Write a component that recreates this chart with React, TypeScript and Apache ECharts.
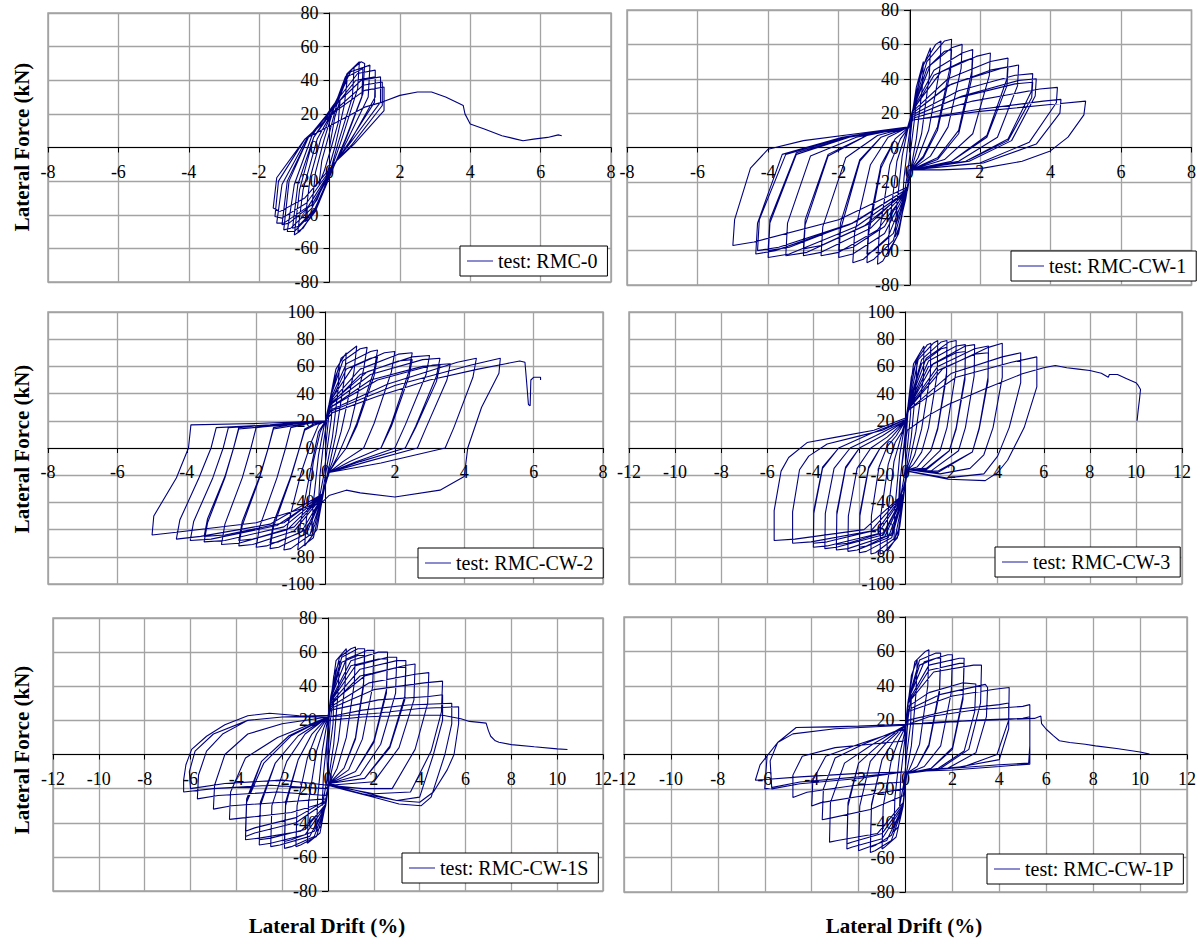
import React, { useEffect, useRef } from "react";
import * as echarts from "echarts";

// ---------- data (drift %, lateral force kN) ----------
const rmc0: number[][] = [
  [0, 0], [0.15, 18], [0.3, 28], [0.25, 15], [0.05, 0], [-0.15, -14], [-0.3, -22], [-0.22, -8], [-0.05, 5],
  [0.2, 25], [0.4, 36], [0.5, 40], [0.42, 25], [0.15, 0], [-0.1, -18], [-0.35, -31], [-0.5, -35], [-0.4, -15], [-0.15, 5],
  [0.15, 25], [0.45, 42], [0.7, 48], [0.65, 30], [0.25, 3], [0.05, -12], [-0.3, -33], [-0.6, -43], [-0.7, -44], [-0.55, -18], [-0.25, 5],
  [0.1, 22], [0.5, 44], [0.85, 51], [0.8, 35], [0.35, 5], [0.1, -10], [-0.35, -35], [-0.75, -48], [-0.9, -50], [-0.75, -25], [-0.35, 5],
  [0.05, 20], [0.55, 45], [0.9, 51], [1.0, 50], [0.95, 32], [0.45, 5], [0.15, -10], [-0.4, -38], [-0.85, -50], [-1.0, -52], [-0.85, -25], [-0.45, 6],
  [0.1, 22], [0.5, 42], [0.95, 47], [0.92, 30], [0.45, 4], [0.15, -10], [-0.4, -36], [-0.9, -47], [-1.05, -48], [-0.9, -22], [-0.45, 6],
  [0.05, 22], [0.6, 45], [1.15, 49], [1.1, 30], [0.5, 4], [0.15, -10], [-0.45, -38], [-1.0, -50], [-1.2, -50], [-1.0, -22], [-0.5, 7],
  [0.1, 25], [0.8, 44], [1.3, 46], [1.3, 30], [0.6, 4], [0.2, -8], [-0.5, -36], [-1.1, -48], [-1.3, -49], [-1.15, -20], [-0.6, 6],
  [0.1, 23], [0.75, 40], [1.3, 42], [1.28, 27], [0.55, 3], [0.2, -8], [-0.5, -34], [-1.15, -45], [-1.35, -46], [-1.2, -20], [-0.6, 6],
  [0.1, 24], [0.9, 40], [1.45, 42], [1.45, 27], [0.6, 3], [0.2, -8], [-0.6, -35], [-1.3, -45], [-1.5, -45], [-1.35, -22], [-0.65, 5],
  [0.15, 22], [0.95, 37], [1.5, 39], [1.5, 25], [0.65, 2], [0.2, -8], [-0.65, -33], [-1.35, -42], [-1.55, -41], [-1.45, -20], [-0.7, 5],
  [0.2, 22], [1.0, 34], [1.55, 36], [1.55, 22], [0.7, 2], [0.2, -8], [-0.7, -30], [-1.4, -38], [-1.6, -36], [-1.5, -18], [-0.7, 5],
  [0.2, 15], [1.0, 24], [1.5, 27], [2.0, 31], [2.5, 33], [2.9, 33], [3.3, 30], [3.7, 26], [3.8, 25], [3.85, 20], [4.0, 14],
  [4.4, 11], [4.9, 7], [5.3, 5], [5.5, 4], [5.8, 5], [6.2, 6], [6.5, 7.5], [6.6, 7],
];

const rmcCw1: number[][] = [
  [0, 0], [0.1, 20], [0.2, 35], [0.17, 20], [0.05, 0], [-0.05, -15], [-0.2, -35], [-0.15, -18], [-0.05, 0],
  [0.05, 15], [0.2, 35], [0.4, 50], [0.37, 35], [0.2, 5], [0.05, -12], [-0.1, -30], [-0.3, -47], [-0.4, -52], [-0.36, -35], [-0.2, -5], [-0.05, 10],
  [0.1, 22], [0.35, 45], [0.6, 58], [0.57, 42], [0.35, 8], [0.1, -10], [-0.05, -22], [-0.3, -50], [-0.6, -62], [-0.56, -45], [-0.35, -8], [-0.1, 8],
  [0.1, 22], [0.4, 48], [0.75, 60], [0.9, 62], [0.87, 46], [0.55, 10], [0.25, -6], [0.05, -13], [-0.05, -24], [-0.35, -52], [-0.75, -66], [-0.9, -68], [-0.85, -50], [-0.55, -10], [-0.25, 5], [0, 12],
  [0.1, 22], [0.5, 50], [1.0, 62], [1.2, 63], [1.17, 48], [0.8, 12], [0.4, -5], [0.05, -13], [-0.05, -24], [-0.45, -54], [-1.0, -65], [-1.2, -67], [-1.15, -50], [-0.8, -12], [-0.4, 5], [0, 12],
  [0.1, 21], [0.5, 46], [1.0, 56], [1.2, 57], [1.17, 44], [0.8, 10], [0.4, -6], [0.05, -13], [-0.05, -23], [-0.45, -50], [-1.0, -60], [-1.2, -62], [-1.15, -46], [-0.8, -10], [-0.4, 5], [0, 12],
  [0.1, 22], [0.6, 48], [1.2, 58], [1.5, 60], [1.47, 46], [1.1, 12], [0.6, -5], [0.05, -13], [-0.05, -24], [-0.6, -52], [-1.3, -65], [-1.6, -67], [-1.55, -50], [-1.1, -10], [-0.6, 6], [0, 12],
  [0.1, 22], [0.7, 45], [1.5, 55], [1.8, 57], [1.77, 44], [1.4, 10], [0.8, -6], [0.05, -13], [-0.05, -24], [-0.7, -50], [-1.6, -62], [-2.0, -64], [-1.95, -48], [-1.4, -8], [-0.8, 6], [0, 12],
  [0.1, 21], [0.7, 42], [1.5, 50], [1.8, 52], [1.77, 40], [1.4, 8], [0.8, -7], [0.05, -13], [-0.05, -23], [-0.7, -46], [-1.6, -58], [-2.0, -60], [-1.95, -44], [-1.4, -7], [-0.8, 6], [0, 12],
  [0.1, 22], [0.9, 44], [1.9, 53], [2.3, 55], [2.27, 42], [1.8, 8], [1.0, -7], [0.05, -13], [-0.05, -25], [-0.9, -48], [-2.0, -61], [-2.5, -63], [-2.45, -46], [-1.8, -6], [-0.9, 7], [0, 12],
  [0.1, 21], [1.1, 40], [2.3, 50], [2.8, 52], [2.77, 40], [2.2, 7], [1.2, -8], [0.05, -13], [-0.05, -25], [-1.1, -47], [-2.5, -61], [-3.0, -63], [-2.95, -45], [-2.3, -5], [-1.2, 7], [0, 12],
  [0.1, 20], [1.1, 36], [2.3, 45], [2.8, 47], [2.77, 36], [2.2, 6], [1.2, -8], [0.05, -13], [-0.05, -24], [-1.1, -44], [-2.5, -57], [-3.0, -59], [-2.95, -42], [-2.3, -4], [-1.2, 7], [0, 12],
  [0.1, 20], [1.2, 37], [2.6, 46], [3.1, 48], [3.07, 36], [2.5, 6], [1.4, -8], [0.05, -13], [-0.05, -25], [-1.3, -46], [-2.9, -61], [-3.5, -63], [-3.45, -44], [-2.8, -5], [-1.5, 6], [0, 12],
  [0.1, 19], [1.4, 33], [3.0, 42], [3.5, 43], [3.47, 33], [2.8, 5], [1.6, -8], [0.05, -13], [-0.05, -25], [-1.5, -46], [-3.4, -62], [-4.0, -64], [-3.95, -44], [-3.2, -4], [-1.7, 6], [0, 12],
  [0.1, 18], [1.4, 29], [3.0, 37], [3.5, 38], [3.47, 29], [2.8, 4], [1.6, -8], [0.05, -13], [-0.05, -24], [-1.5, -43], [-3.4, -58], [-4.0, -60], [-3.95, -42], [-3.2, -3], [-1.7, 6], [0, 12],
  [0.1, 18], [1.5, 30], [3.1, 39], [3.6, 40], [3.57, 30], [2.9, 4], [1.7, -8], [0.05, -13], [-0.05, -24], [-1.6, -44], [-3.7, -58], [-4.3, -60], [-4.25, -42], [-3.5, -4], [-1.8, 6], [0, 12],
  [0.1, 17], [1.8, 27], [3.7, 34], [4.2, 35], [4.17, 26], [3.4, 3], [2.0, -9], [0.05, -13], [-0.05, -24], [-1.7, -45], [-3.8, -60], [-4.35, -62], [-4.3, -44], [-3.6, -4], [-1.9, 6], [0, 12],
  [0.1, 16], [1.9, 22], [3.8, 27], [4.3, 28], [4.27, 20], [3.6, 2], [2.1, -9], [0.05, -13], [-0.05, -23], [-2.0, -42], [-4.4, -55], [-5.0, -57], [-4.95, -42], [-4.5, -12], [-4.0, -1], [-3.0, 4], [-1.5, 8], [0, 12],
  [0.1, 16], [2.0, 21], [4.0, 25], [5.0, 27], [4.95, 19], [4.5, 6], [4.0, -2], [3.2, -8], [2.1, -12], [0.9, -13], [0, -13], [-0.05, -20],
];

const rmcCw2: number[][] = [
  [0, 0], [0.1, 25], [0.2, 40], [0.17, 22], [0.05, 0], [-0.05, -20], [-0.2, -40], [-0.16, -20], [-0.05, 5],
  [0.1, 30], [0.25, 50], [0.4, 60], [0.36, 42], [0.2, 8], [0.05, -12], [-0.1, -35], [-0.3, -56], [-0.4, -62], [-0.35, -40], [-0.2, -5], [-0.05, 15],
  [0.1, 32], [0.3, 58], [0.6, 70], [0.55, 52], [0.3, 10], [0.1, -14], [-0.05, -32], [-0.25, -60], [-0.6, -72], [-0.55, -52], [-0.35, -10], [-0.15, 12], [0, 20],
  [0.15, 38], [0.45, 66], [0.9, 75], [0.82, 56], [0.45, 12], [0.2, -10], [0.05, -20], [-0.1, -38], [-0.35, -66], [-0.8, -75], [-0.72, -55], [-0.4, -12], [-0.2, 12], [0, 20],
  [0.15, 38], [0.5, 64], [1.0, 73], [1.2, 74], [1.1, 58], [0.7, 15], [0.35, -6], [0.1, -18], [-0.1, -36], [-0.45, -64], [-1.0, -74], [-1.2, -75], [-1.1, -58], [-0.7, -18], [-0.4, 5], [-0.2, 17], [0, 20],
  [0.15, 36], [0.6, 62], [1.3, 71], [1.5, 72], [1.4, 57], [0.9, 18], [0.6, 0], [0.3, -10], [0.1, -18], [-0.1, -36], [-0.55, -63], [-1.35, -73], [-1.6, -74], [-1.5, -58], [-1.0, -22], [-0.75, 0], [-0.6, 14], [-0.3, 18], [0, 20],
  [0.15, 34], [0.6, 58], [1.3, 66], [1.5, 67], [1.4, 53], [0.9, 16], [0.6, 0], [0.3, -10], [0.1, -18], [-0.1, -35], [-0.55, -60], [-1.35, -69], [-1.6, -70], [-1.5, -55], [-1.0, -21], [-0.75, 0], [-0.6, 13], [-0.3, 17], [0, 20],
  [0.15, 35], [0.8, 60], [1.7, 70], [2.0, 71], [1.9, 56], [1.4, 18], [1.1, 0], [0.5, -10], [0.1, -18], [-0.1, -36], [-0.7, -62], [-1.7, -72], [-2.0, -73], [-1.9, -58], [-1.4, -22], [-1.15, 0], [-1.0, 15], [-0.5, 18], [0, 20],
  [0.15, 34], [1.0, 58], [2.1, 69], [2.5, 70], [2.4, 56], [1.9, 18], [1.6, 0], [0.7, -10], [0.1, -18], [-0.1, -36], [-0.9, -61], [-2.1, -71], [-2.5, -72], [-2.4, -57], [-1.9, -22], [-1.65, 0], [-1.5, 15], [-0.8, 18], [0, 20],
  [0.15, 32], [1.0, 54], [2.1, 64], [2.5, 65], [2.4, 52], [1.9, 16], [1.6, 0], [0.7, -10], [0.1, -18], [-0.1, -35], [-0.9, -58], [-2.1, -67], [-2.5, -68], [-2.4, -54], [-1.9, -21], [-1.65, 0], [-1.5, 14], [-0.8, 17], [0, 20],
  [0.15, 33], [1.2, 56], [2.5, 67], [3.0, 68], [2.9, 54], [2.3, 17], [2.0, 0], [0.9, -10], [0.1, -18], [-0.1, -35], [-1.1, -60], [-2.5, -70], [-3.0, -71], [-2.9, -56], [-2.4, -22], [-2.15, 0], [-2.0, 15], [-1.0, 18], [0, 20],
  [0.15, 32], [1.3, 54], [2.8, 65], [3.3, 66], [3.2, 53], [2.6, 16], [2.3, 0], [1.0, -10], [0.1, -18], [-0.1, -35], [-1.2, -58], [-2.9, -68], [-3.5, -69], [-3.4, -55], [-2.9, -22], [-2.65, 0], [-2.5, 15], [-1.2, 18], [0, 20],
  [0.15, 30], [1.3, 50], [2.8, 60], [3.3, 61], [3.2, 49], [2.6, 15], [2.3, 0], [1.0, -10], [0.1, -18], [-0.1, -34], [-1.2, -55], [-2.9, -64], [-3.5, -65], [-3.4, -52], [-2.9, -21], [-2.65, 0], [-2.5, 14], [-1.2, 17], [0, 20],
  [0.15, 30], [1.5, 50], [3.1, 61], [3.6, 62], [3.5, 50], [2.9, 15], [2.65, 0], [1.2, -10], [0.1, -18], [-0.1, -35], [-1.4, -57], [-3.3, -67], [-3.9, -68], [-3.8, -54], [-3.25, -22], [-2.95, 0], [-2.8, 15], [-1.4, 17], [0, 20],
  [0.15, 28], [1.8, 47], [3.8, 63], [4.35, 66], [4.25, 52], [3.7, 15], [3.45, 0], [1.6, -11], [0.1, -18], [-0.1, -34], [-1.6, -56], [-3.6, -65], [-4.3, -67], [-4.2, -53], [-3.65, -22], [-3.3, 0], [-3.15, 15], [-1.6, 17], [0, 20],
  [0.15, 27], [2.0, 46], [4.2, 61], [5.04, 66], [5.0, 55], [4.5, 30], [4.1, 0], [4.0, -21], [3.3, -31], [2.0, -36], [1.0, -33], [0.6, -31], [0.1, -35], [-0.1, -40],
  [-2.0, -55], [-4.3, -62], [-5.0, -64], [-4.95, -50], [-4.3, -22], [-3.95, 0], [-3.88, 17], [-2.0, 18], [0, 20],
  [0.2, 26], [1.5, 38], [3.0, 50], [4.4, 58], [5.2, 62], [5.6, 64], [5.75, 63], [5.8, 48], [5.85, 32], [5.9, 31], [5.92, 50], [6.0, 52], [6.2, 52], [6.2, 50],
];

const rmcCw3: number[][] = [
  [0, 0], [0.1, 25], [0.25, 40], [0.22, 25], [0.08, 0], [-0.05, -20], [-0.25, -40], [-0.22, -22], [-0.05, 5],
  [0.1, 30], [0.25, 52], [0.5, 65], [0.45, 45], [0.25, 8], [0.05, -14], [-0.05, -32], [-0.25, -58], [-0.5, -68], [-0.46, -45], [-0.25, -5], [-0.08, 12],
  [0.1, 30], [0.35, 62], [0.8, 75], [0.78, 52], [0.45, 12], [0.2, -8], [0.05, -16], [-0.1, -36], [-0.3, -64], [-0.8, -76], [-0.78, -50], [-0.5, -10], [-0.2, 8], [0, 18],
  [0.12, 32], [0.45, 64], [0.95, 76], [1.1, 77], [1.08, 54], [0.7, 14], [0.4, -5], [0.1, -16], [-0.1, -36], [-0.35, -66], [-0.95, -77], [-1.1, -78], [-1.08, -50], [-0.75, -12], [-0.45, 4], [-0.15, 12], [0, 20],
  [0.15, 32], [0.55, 65], [1.2, 77], [1.4, 79], [1.38, 55], [1.0, 15], [0.7, -3], [0.35, -12], [0.1, -16], [-0.1, -36], [-0.45, -66], [-1.3, -77], [-1.5, -78], [-1.48, -50], [-1.15, -14], [-0.8, 1], [-0.4, 9], [0, 20],
  [0.15, 32], [0.7, 65], [1.55, 78], [1.8, 79], [1.78, 55], [1.4, 15], [1.1, -2], [0.5, -14], [0.1, -16], [-0.1, -36], [-0.6, -66], [-1.7, -76], [-2.0, -77], [-1.98, -50], [-1.6, -15], [-1.1, 0], [-0.6, 8], [0, 20],
  [0.15, 31], [0.7, 62], [1.55, 73], [1.8, 74], [1.78, 52], [1.4, 14], [1.1, -2], [0.5, -14], [0.1, -16], [-0.1, -35], [-0.6, -63], [-1.7, -72], [-2.0, -73], [-1.98, -48], [-1.6, -14], [-1.1, 0], [-0.6, 8], [0, 20],
  [0.15, 32], [0.9, 66], [1.9, 78], [2.2, 79], [2.18, 55], [1.8, 15], [1.5, -2], [0.7, -15], [0.1, -16], [-0.1, -36], [-0.75, -66], [-2.1, -75], [-2.5, -76], [-2.48, -50], [-2.1, -15], [-1.5, 0], [-0.8, 8], [0, 20],
  [0.15, 31], [1.0, 64], [2.2, 75], [2.6, 76], [2.58, 53], [2.2, 15], [1.9, -2], [0.9, -16], [0.1, -16], [-0.1, -36], [-0.9, -65], [-2.5, -74], [-3.0, -75], [-2.98, -49], [-2.6, -15], [-2.0, 0], [-1.0, 9], [0, 20],
  [0.15, 30], [1.0, 60], [2.2, 70], [2.6, 71], [2.58, 50], [2.2, 14], [1.9, -2], [0.9, -15], [0.1, -16], [-0.1, -35], [-0.9, -62], [-2.5, -70], [-3.0, -71], [-2.98, -47], [-2.6, -14], [-2.0, 0], [-1.0, 9], [0, 20],
  [0.15, 30], [1.2, 62], [2.6, 75], [3.0, 76], [2.98, 53], [2.6, 15], [2.3, -2], [1.1, -17], [0.1, -16], [-0.1, -35], [-1.0, -64], [-3.0, -73], [-3.5, -74], [-3.48, -48], [-3.1, -15], [-2.4, 0], [-1.3, 9], [0, 20],
  [0.15, 30], [1.4, 60], [3.0, 73], [3.6, 75], [3.58, 52], [3.2, 15], [2.9, -3], [1.4, -18], [0.1, -16], [-0.1, -35], [-1.2, -63], [-3.4, -72], [-4.0, -73], [-3.98, -48], [-3.6, -15], [-2.9, 0], [-1.6, 10], [0, 21],
  [0.15, 29], [1.4, 57], [3.0, 69], [3.6, 70], [3.58, 49], [3.2, 14], [2.9, -3], [1.4, -17], [0.1, -16], [-0.1, -34], [-1.2, -60], [-3.4, -69], [-4.0, -70], [-3.98, -46], [-3.6, -14], [-2.9, 0], [-1.6, 10], [0, 21],
  [0.15, 29], [1.6, 58], [3.6, 74], [4.2, 77], [4.2, 52], [3.8, 15], [3.4, -5], [2.8, -15], [1.5, -19], [0.1, -16], [-0.1, -34], [-1.5, -61], [-4.1, -69], [-4.9, -70], [-4.9, -47], [-4.6, -16], [-4.2, -6], [-3.4, 3], [-2.2, 8], [-1.0, 13], [0, 21],
  [0.15, 28], [2.0, 55], [4.2, 67], [5.0, 70], [5.0, 48], [4.5, 15], [4.0, -6], [3.4, -19], [1.8, -22], [0.1, -17], [-0.1, -34], [-1.8, -60], [-4.8, -67], [-5.7, -68], [-5.7, -46], [-5.4, -17], [-5.07, -7], [-4.27, 4], [-3.0, 8], [-1.37, 13], [0, 22],
  [0.15, 28], [2.2, 52], [4.6, 63], [5.7, 67], [5.7, 45], [5.15, 15], [4.43, -9], [4.0, -18], [3.46, -24], [1.85, -23], [0.08, -17], [-0.1, -30], [-0.3, -40], [-0.25, -25], [-0.05, 0],
  [0.08, 13], [1.0, 24], [1.85, 32], [3.46, 43.5], [5.07, 54.6], [6.0, 59], [6.5, 60.7], [7.0, 59], [7.5, 58], [8.0, 57], [8.5, 55], [8.8, 52],
  [8.85, 54], [9.2, 54], [9.6, 51], [10.0, 48], [10.1, 46], [10.2, 43], [10.15, 35], [10.1, 28], [10.05, 20],
];

const rmcCw1S: number[][] = [
  [0, 0], [0.1, 20], [0.25, 35], [0.22, 18], [0.05, 0], [-0.05, -15], [-0.25, -30], [-0.2, -12], [-0.05, 8],
  [0.1, 28], [0.25, 46], [0.5, 55], [0.45, 38], [0.25, 6], [0.05, -12], [-0.1, -28], [-0.3, -42], [-0.5, -45], [-0.45, -25], [-0.25, 2], [-0.05, 18],
  [0.1, 30], [0.35, 55], [0.8, 62], [0.75, 42], [0.45, 8], [0.15, -10], [-0.05, -25], [-0.35, -46], [-0.9, -52], [-0.85, -28], [-0.5, 2], [-0.2, 15], [0, 22],
  [0.12, 34], [0.5, 57], [1.0, 62], [1.2, 63], [1.15, 42], [0.8, 10], [0.4, -8], [0.05, -17], [-0.1, -30], [-0.5, -48], [-1.2, -53], [-1.4, -54], [-1.35, -30], [-0.9, -2], [-0.5, 12], [0, 22],
  [0.12, 34], [0.6, 57], [1.3, 62], [1.6, 62], [1.55, 42], [1.2, 10], [0.7, -8], [0.05, -17], [-0.1, -30], [-0.6, -48], [-1.6, -54], [-1.9, -55], [-1.85, -30], [-1.3, -3], [-0.7, 12], [0, 22],
  [0.12, 33], [0.6, 54], [1.3, 58], [1.6, 58], [1.55, 40], [1.2, 9], [0.7, -8], [0.05, -17], [-0.1, -29], [-0.6, -45], [-1.6, -50], [-1.9, -51], [-1.85, -28], [-1.3, -3], [-0.7, 12], [0, 22],
  [0.12, 33], [0.8, 56], [1.7, 61], [2.0, 61], [1.95, 40], [1.5, 9], [0.9, -9], [0.05, -17], [-0.1, -30], [-0.8, -48], [-2.1, -53], [-2.5, -54], [-2.45, -30], [-1.8, -4], [-1.0, 12], [0, 22],
  [0.12, 32], [1.0, 55], [2.2, 60], [2.6, 60], [2.55, 38], [2.0, 8], [1.2, -10], [0.05, -17], [-0.1, -30], [-1.0, -47], [-2.5, -52], [-3.0, -53], [-2.95, -30], [-2.3, -5], [-1.3, 11], [0, 22],
  [0.12, 31], [1.0, 52], [2.2, 56], [2.6, 56], [2.55, 36], [2.0, 7], [1.2, -10], [0.05, -17], [-0.1, -29], [-1.0, -44], [-2.5, -49], [-3.0, -50], [-2.95, -28], [-2.3, -5], [-1.3, 11], [0, 22],
  [0.12, 31], [1.2, 52], [2.6, 57], [3.0, 57], [2.95, 36], [2.3, 6], [1.4, -12], [0.05, -17], [-0.1, -30], [-1.2, -45], [-3.0, -49], [-3.6, -50], [-3.55, -28], [-2.8, -5], [-1.6, 11], [0, 22],
  [0.12, 30], [1.4, 50], [3.0, 55], [3.4, 55], [3.35, 34], [2.7, 5], [1.6, -14], [0.05, -17], [-0.1, -28], [-1.4, -40], [-3.2, -46], [-3.6, -48], [-3.55, -28], [-2.9, -4], [-1.7, 11], [0, 22],
  [0.12, 29], [1.4, 46], [3.0, 51], [3.4, 51], [3.35, 32], [2.7, 4], [1.6, -14], [0.05, -17], [-0.1, -27], [-1.4, -37], [-3.2, -43], [-3.6, -45], [-3.55, -26], [-2.9, -4], [-1.7, 11], [0, 22],
  [0.12, 30], [1.6, 46], [3.3, 52], [3.8, 53], [3.75, 32], [3.1, 4], [2.0, -16], [0.05, -18], [-0.1, -28], [-1.6, -34], [-3.6, -37], [-4.3, -38], [-4.25, -22], [-3.6, -2], [-2.2, 10], [0, 22],
  [0.12, 28], [1.8, 42], [3.8, 47], [4.4, 48], [4.35, 30], [3.8, 3], [2.8, -20], [1.5, -20], [0.05, -18], [-0.1, -26], [-2.0, -28], [-4.2, -30], [-5.0, -32], [-4.95, -18], [-4.5, 0], [-3.5, 12], [-2.0, 18], [0, 22],
  [0.12, 27], [2.0, 38], [4.2, 42], [5.0, 43], [4.95, 25], [4.5, 2], [3.6, -22], [2.0, -23], [0.05, -18], [-0.1, -24], [-2.2, -22], [-4.8, -24], [-5.7, -26], [-5.65, -12], [-5.3, 2], [-4.6, 12], [-3.5, 20], [-2.0, 22], [0, 23],
  [0.12, 26], [2.2, 32], [4.4, 34], [5.0, 35], [5.0, 20], [4.6, 0], [4.0, -25], [3.0, -27], [1.5, -23], [0.05, -18], [-0.1, -20], [-2.5, -18], [-5.0, -20], [-6.3, -22],
  [-6.3, -15], [-6.2, -6], [-5.95, 3], [-5.3, 10.7], [-4.5, 17.4], [-3.5, 22.7], [-2.55, 24.2], [-1.26, 22.7], [0, 22],
  [1.5, 26], [3.5, 29], [5.4, 30], [5.4, 18], [5.1, 0], [4.5, -25], [4.07, -30], [3.1, -29], [2.0, -25], [0.8, -21], [0, -18], [-2.0, -15], [-4.5, -17], [-6.0, -20],
  [-6.05, -10], [-5.8, 2], [-5.0, 12], [-3.5, 20], [-2.0, 22], [0, 22],
  [2.0, 24], [4.0, 27], [5.7, 28], [5.7, 18], [5.5, 0], [5.2, -9], [4.6, -22], [4.0, -28], [3.0, -27], [1.5, -22], [0, -17], [-0.05, 0], [0, 20],
  [1.5, 22], [3.5, 23], [5.0, 23], [5.8, 21], [6.17, 19.4], [6.5, 19], [6.9, 18.4], [7.0, 14], [7.1, 10.7], [7.3, 8], [7.46, 7.2], [8.0, 5.8], [9.0, 4.5], [10.0, 3.3], [10.45, 2.9],
];

const rmcCw1P: number[][] = [
  [0, 0], [0.1, 20], [0.25, 35], [0.22, 18], [0.05, 0], [-0.05, -15], [-0.25, -30], [-0.2, -12], [-0.05, 6],
  [0.1, 28], [0.25, 46], [0.5, 55], [0.45, 36], [0.25, 5], [0.05, -10], [-0.1, -28], [-0.3, -42], [-0.5, -45], [-0.45, -25], [-0.25, 0], [-0.05, 12],
  [0.1, 30], [0.4, 54], [0.85, 60], [1.0, 61], [0.95, 40], [0.6, 6], [0.25, -6], [0.05, -12], [-0.1, -30], [-0.4, -48], [-0.9, -54], [-1.0, -55], [-0.95, -30], [-0.6, -3], [-0.3, 8], [0, 16],
  [0.12, 32], [0.6, 55], [1.3, 59], [1.5, 59], [1.45, 38], [1.0, 6], [0.5, -7], [0.05, -11], [-0.1, -30], [-0.6, -50], [-1.3, -56], [-1.5, -57], [-1.45, -30], [-1.0, -3], [-0.5, 8], [0, 17],
  [0.12, 31], [0.6, 52], [1.3, 56], [1.5, 56], [1.45, 36], [1.0, 5], [0.5, -7], [0.05, -11], [-0.1, -29], [-0.6, -47], [-1.3, -53], [-1.5, -54], [-1.45, -29], [-1.0, -3], [-0.5, 8], [0, 17],
  [0.12, 32], [0.8, 54], [1.8, 58], [2.0, 58], [1.95, 36], [1.5, 5], [0.8, -7], [0.05, -11], [-0.1, -30], [-0.8, -50], [-1.8, -55], [-2.0, -56], [-1.95, -30], [-1.5, -4], [-0.8, 7], [0, 17],
  [0.12, 31], [1.0, 52], [2.3, 56], [2.5, 56], [2.45, 34], [2.0, 4], [1.1, -8], [0.05, -11], [-0.1, -30], [-1.0, -49], [-2.3, -54], [-2.5, -55], [-2.45, -30], [-2.0, -5], [-1.1, 6], [0, 17],
  [0.12, 30], [1.0, 49], [2.3, 53], [2.5, 53], [2.45, 32], [2.0, 3], [1.1, -8], [0.05, -11], [-0.1, -29], [-1.0, -46], [-2.3, -51], [-2.5, -52], [-2.45, -28], [-2.0, -5], [-1.1, 6], [0, 17],
  [0.12, 30], [1.2, 48], [2.9, 52], [3.24, 52], [3.2, 30], [2.7, 3], [1.5, -8], [0.05, -11], [-0.1, -28], [-1.2, -46], [-2.9, -50], [-3.24, -51], [-3.2, -28], [-2.6, -5], [-1.4, 6], [0, 17],
  [0.12, 28], [1.0, 36], [2.45, 41.7], [3.0, 41], [2.95, 25], [2.5, 2], [1.4, -8], [0.05, -11], [-0.1, -24], [-1.5, -32], [-3.2, -37], [-3.55, -38], [-3.5, -20], [-3.0, -2], [-1.8, 6], [0, 16],
  [0.12, 26], [1.5, 35], [3.4, 40.8], [3.5, 39], [3.45, 22], [3.0, 1], [1.8, -8], [0.05, -11], [-0.1, -20], [-1.8, -24], [-3.6, -28], [-4.0, -30], [-3.95, -15], [-3.4, -1], [-2.0, 6], [0, 15],
  [0.12, 25], [2.0, 34], [3.8, 38], [4.42, 39], [4.4, 20], [3.9, 0], [2.5, -7], [0.05, -10], [-0.1, -16], [-2.2, -18], [-4.2, -22], [-4.8, -25], [-4.8, -12], [-4.4, -1], [-3.0, 4], [-1.5, 6], [0, 8],
  [0.12, 20], [2.0, 26], [4.0, 29], [4.4, 30], [4.4, 15], [4.0, -3], [2.0, -8], [0, -10], [-2.0, -14], [-4.5, -17], [-5.7, -20], [-5.77, -3.7], [-5.45, 7], [-4.8, 12], [-3.0, 15], [0, 17],
  [1.0, 22], [3.0, 26], [5.0, 28], [5.3, 29], [5.3, 10], [5.3, -5.6], [4.0, -7], [2.0, -9], [0, -10], [-2.0, -13], [-4.5, -16], [-6.0, -20], [-5.9, -0.8], [-5.45, 7], [-4.66, 15.7], [-3.0, 16], [0, 17.6],
  [1.0, 18], [3.0, 20], [5.0, 21], [5.3, 22], [5.3, 5], [5.25, -5], [4.0, -6], [2.0, -8], [0, -10], [-2.0, -11], [-4.5, -13], [-6.4, -15], [-6.2, -6], [-5.9, -0.8], [-5.45, 7], [-4.66, 15.7], [-2.0, 16.5], [0, 17.6],
  [1.5, 19], [3.5, 20], [5.5, 21], [5.77, 22.4], [5.8, 18], [6.0, 14.7], [6.3, 11], [6.56, 8], [7.0, 7], [7.66, 6], [8.1, 5], [9.0, 3.5], [10.0, 1.5], [10.4, 0.2],
];

const seriesData = [rmc0, rmcCw1, rmcCw2, rmcCw3, rmcCw1S, rmcCw1P];
const legendNames = ["test: RMC-0", "test: RMC-CW-1", "test: RMC-CW-2", "test: RMC-CW-3", "test: RMC-CW-1S", "test: RMC-CW-1P"];
const xMin = [-8, -8, -8, -12, -12, -12];
const xMax = [8, 8, 8, 12, 12, 12];
const yMin = [-80, -80, -100, -100, -80, -80];
const yMax = [80, 80, 100, 100, 80, 80];
const xStep = 2;
const yStep = 20;
const yTitle = "Lateral Force (kN)";
const xTitle = "Lateral Drift (%)";

// ---------- layout ----------
const grids = [
  { left: 48, top: 13, width: 563, height: 269 },
  { left: 627, top: 10, width: 566, height: 275 },
  { left: 48, top: 312, width: 555, height: 272 },
  { left: 629, top: 312, width: 553, height: 272 },
  { left: 53, top: 618, width: 550, height: 273 },
  { left: 624, top: 617, width: 563, height: 275 },
];
const legendPos = [
  [460, 246],
  [1011, 251],
  [418, 548],
  [995, 547],
  [402, 853],
  [987, 854],
];

const FONT = "Liberation Serif";
const LINE = "#000080";
const GRIDC = "#a3a3a3";

export default function App() {
  const ref = useRef<HTMLDivElement>(null);
  useEffect(() => {
    if (!ref.current) return;
    const chart = echarts.init(ref.current, undefined, { renderer: "svg" });
    const idx = [0, 1, 2, 3, 4, 5];
    const option: any = {
      animation: false,
      backgroundColor: "#ffffff",
      textStyle: { fontFamily: FONT },
      grid: idx.map((i) => ({
        ...grids[i],
        show: true,
        borderColor: GRIDC,
        borderWidth: 1.5,
        backgroundColor: "#ffffff",
        containLabel: false,
      })),
      xAxis: idx.map((i) => ({
        type: "value",
        gridIndex: i,
        position: "bottom",
        offset: -grids[i].height / 2,
        min: xMin[i],
        max: xMax[i],
        interval: xStep,
        axisLine: { show: true, onZero: false, lineStyle: { color: "#000", width: 1 } },
        axisTick: { show: true, inside: false, length: 5, lineStyle: { color: "#000" } },
        axisLabel: {
          show: true,
          margin: 15,
          color: "#000",
          fontFamily: FONT,
          fontSize: 18,
          showMinLabel: true,
          showMaxLabel: true,
          hideOverlap: false,
        },
        splitLine: { show: true, lineStyle: { color: GRIDC, width: 1.3 } },
      })),
      yAxis: idx.map((i) => ({
        type: "value",
        gridIndex: i,
        position: "left",
        offset: -grids[i].width / 2,
        min: yMin[i],
        max: yMax[i],
        interval: yStep,
        axisLine: { show: true, onZero: false, lineStyle: { color: "#000", width: 1 } },
        axisTick: { show: true, inside: false, length: 6, lineStyle: { color: "#000" } },
        axisLabel: {
          show: true,
          margin: 11,
          color: "#000",
          fontFamily: FONT,
          fontSize: 18,
          showMinLabel: true,
          showMaxLabel: true,
          hideOverlap: false,
        },
        splitLine: { show: true, lineStyle: { color: GRIDC, width: 1.3 } },
      })),
      legend: idx.map((i) => ({
        data: [legendNames[i]],
        left: legendPos[i][0],
        top: legendPos[i][1],
        orient: "horizontal",
        selectedMode: false,
        backgroundColor: "#ffffff",
        borderColor: "#000",
        borderWidth: 1,
        borderRadius: 0,
        padding: [5, 10, 5, 7],
        icon: "rect",
        itemWidth: 26,
        itemHeight: 1.4,
        itemStyle: { color: "#5a5ab8", borderWidth: 0 },
        textStyle: { color: "#000", fontFamily: FONT, fontSize: 20 },
      })),
      series: idx.map((i) => ({
        name: legendNames[i],
        type: "line",
        xAxisIndex: i,
        yAxisIndex: i,
        data: seriesData[i],
        symbol: "none",
        showSymbol: false,
        smooth: false,
        clip: true,
        lineStyle: { color: LINE, width: 1.1 },
        itemStyle: { color: LINE },
        z: 3,
      })),
      graphic: [
        ...[147, 449, 750].map((y) => ({
          type: "text",
          x: 22,
          y,
          rotation: Math.PI / 2,
          style: {
            text: yTitle,
            fill: "#000",
            font: `bold 21px ${FONT}`,
            align: "center",
            verticalAlign: "middle",
          },
        })),
        ...[327, 904].map((x) => ({
          type: "text",
          x,
          y: 926,
          style: {
            text: xTitle,
            fill: "#000",
            font: `bold 21px ${FONT}`,
            align: "center",
            verticalAlign: "middle",
          },
        })),
      ],
    };
    chart.setOption(option);
    return () => chart.dispose();
  }, []);
  return (
    <div
      ref={ref}
      style={{ position: "absolute", left: 0, top: 0, width: 1199, height: 944, background: "#fff" }}
    />
  );
}
